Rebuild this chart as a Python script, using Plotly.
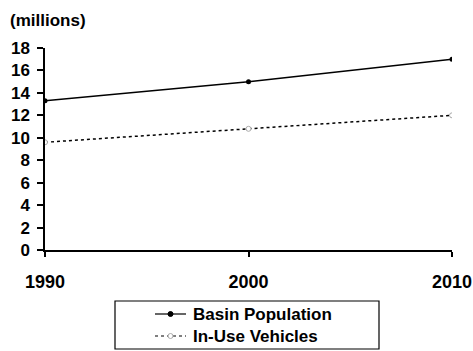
import plotly.graph_objects as go

years = [1990, 2000, 2010]
basin_population = [13.3, 15.0, 17.0]
in_use_vehicles = [9.6, 10.8, 12.0]
y_ticks = [0, 2, 4, 6, 8, 10, 12, 14, 16, 18]
x_ticks = [1990, 2000, 2010]
series_names = ["Basin Population", "In-Use Vehicles"]

FONT = "Liberation Sans"
W, H = 473, 351
ML, MR, MT, MB = 45, 21, 48, 101
PW, PH = W - ML - MR, H - MT - MB


def px_x(px):
    return (px - ML) / PW


def px_y(py):
    return (H - MB - py) / PH


fig = go.Figure()
fig.add_trace(go.Scatter(
    x=years, y=basin_population, name=series_names[0],
    mode="lines+markers",
    line=dict(color="black", width=1.5),
    marker=dict(color="black", size=5, symbol="circle"),
    showlegend=False,
))
fig.add_trace(go.Scatter(
    x=years, y=in_use_vehicles, name=series_names[1],
    mode="lines+markers",
    line=dict(color="black", width=1.5, dash="dot"),
    marker=dict(color="white", size=5, symbol="circle", line=dict(width=1, color="#aaaaaa")),
    showlegend=False,
))

# Legend box drawn by hand (to match the compact original legend)
shapes = [
    dict(type="rect", xref="paper", yref="paper",
         x0=px_x(115), x1=px_x(379), y0=px_y(349), y1=px_y(301),
         line=dict(color="black", width=1.2), fillcolor="white", layer="above"),
]
annotations = [dict(
    text="(millions)", xref="paper", yref="paper",
    x=px_x(8), y=px_y(20), xanchor="left", yanchor="middle",
    showarrow=False,
    font=dict(family=FONT, size=17, color="black", weight="bold"),
)]
rows = [(314, "solid", "black", "black"), (336, "dot", "white", "#aaaaaa")]
for name, (ry, dash, mfill, mline) in zip(series_names, rows):
    shapes.append(dict(type="line", xref="paper", yref="paper",
                       x0=px_x(155), x1=px_x(186), y0=px_y(ry), y1=px_y(ry),
                       line=dict(color="black", width=1.2, dash=dash), layer="above"))
    shapes.append(dict(type="circle", xref="paper", yref="paper",
                       x0=px_x(168), x1=px_x(173), y0=px_y(ry + 2.5), y1=px_y(ry - 2.5),
                       line=dict(color=mline, width=1), fillcolor=mfill, layer="above"))
    annotations.append(dict(
        text=name, xref="paper", yref="paper",
        x=px_x(191), y=px_y(ry), xanchor="left", yanchor="middle",
        showarrow=False,
        font=dict(family=FONT, size=17, color="black", weight="bold"),
    ))

fig.update_layout(
    width=W, height=H,
    margin=dict(l=ML, r=MR, t=MT, b=MB, autoexpand=False),
    paper_bgcolor="white", plot_bgcolor="white",
    font=dict(family=FONT, color="black", size=17, weight="bold"),
    showlegend=False,
    xaxis=dict(
        range=[1990, 2010], tickmode="array", tickvals=x_ticks,
        ticktext=[str(v) for v in x_ticks],
        showgrid=False, zeroline=False, showline=True, automargin=False,
        linecolor="black", linewidth=1.5,
        ticks="outside", ticklen=5, tickcolor="black", tickwidth=1.5,
        ticklabelstandoff=10,
        tickfont=dict(family=FONT, size=18, color="black", weight="bold"),
    ),
    yaxis=dict(
        range=[0, 18], tickmode="array", tickvals=y_ticks,
        ticktext=[str(v) for v in y_ticks],
        showgrid=False, zeroline=False, showline=True, automargin=False,
        linecolor="black", linewidth=1.5,
        ticks="outside", ticklen=6, tickcolor="black", tickwidth=1.5,
        ticklabelstandoff=4,
        tickfont=dict(family=FONT, size=17, color="black", weight="bold"),
    ),
    shapes=shapes,
    annotations=annotations,
)

fig.write_html("out.html", config={"displayModeBar": False},
               post_script="document.body.style.margin='0';")
